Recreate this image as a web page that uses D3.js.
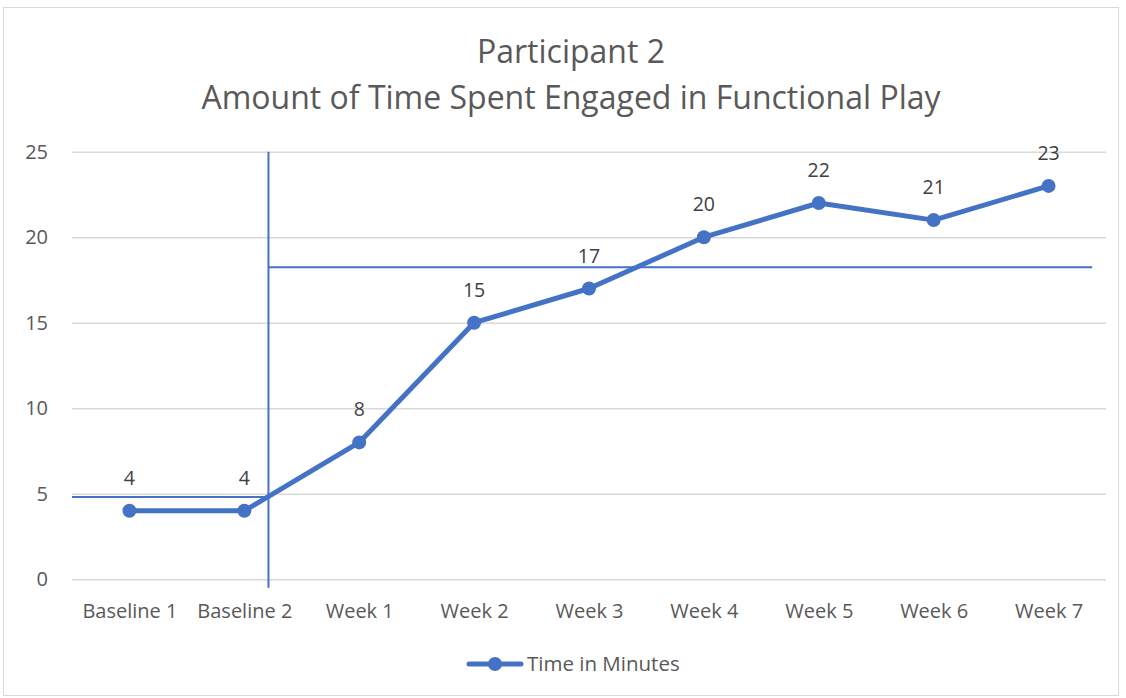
<!DOCTYPE html>
<html><head><meta charset="utf-8">
<script src="https://cdn.jsdelivr.net/npm/d3@7"></script>
<style>
html,body{margin:0;padding:0;background:#fff;}
svg{display:block;font-family:"Open Sans",sans-serif;}
</style></head>
<body>
<svg id="c" width="1126" height="698"></svg>
<script>
const categories = ["Baseline 1","Baseline 2","Week 1","Week 2","Week 3","Week 4","Week 5","Week 6","Week 7"];
const timeInMinutes = [4,4,8,15,17,20,22,21,23];
const yTicks = [0,5,10,15,20,25];
const titleLines = ["Participant 2","Amount of Time Spent Engaged in Functional Play"];
const seriesName = "Time in Minutes";
// phase annotation lines (in data units: category index / value)
const phaseChangeIndex = 1.21;
const baselineLevel = 4.8;
const interventionLevel = 18.25;
const interventionLineEnd = 8.38;

(function(){
const svg = d3.select("#c");
const pLeft = 72, pRight = 1106, pTop = 151.7, pBottom = 579.2;
const blue = "#4472C4";

svg.append("rect").attr("x",3.5).attr("y",7.5).attr("width",1115).attr("height",688)
  .attr("fill","#fff").attr("stroke","#d9d9d9").attr("stroke-width",1);

const x = d3.scalePoint().domain(categories).range([pLeft,pRight]).padding(0.5);
const step = x.step();
const xi = d3.scaleLinear().domain([0,1]).range([x(categories[0]), x(categories[0])+step]);
const y = d3.scaleLinear().domain([0,25]).range([pBottom,pTop]);

// title
svg.append("g").selectAll("text").data(titleLines).join("text")
  .attr("x",571).attr("y",(d,i)=>63+i*46).attr("text-anchor","middle")
  .attr("font-size",32).attr("fill","#595959").text(d=>d);

// gridlines
const yAxis = d3.axisLeft(y).tickValues(yTicks).tickSize(-(pRight-pLeft)).tickPadding(24);
const gy = svg.append("g").attr("transform",`translate(${pLeft},0)`).call(yAxis);
gy.select(".domain").remove();
gy.selectAll(".tick line").attr("stroke","#d9d9d9").attr("stroke-width",1.5);
gy.selectAll(".tick text").attr("fill","#595959").attr("font-size",20).attr("font-family","'Open Sans',sans-serif");

// x axis labels
const xAxis = d3.axisBottom(x).tickSize(0).tickPadding(25);
const gx = svg.append("g").attr("transform",`translate(0,${pBottom})`).call(xAxis);
gx.select(".domain").remove();
gx.selectAll(".tick text").attr("fill","#595959").attr("font-size",20).attr("font-family","'Open Sans',sans-serif");

// phase lines
svg.append("line").attr("x1",xi(phaseChangeIndex)).attr("x2",xi(phaseChangeIndex))
  .attr("y1",y(25)).attr("y2",y(-0.5)).attr("stroke",blue).attr("stroke-width",2);
svg.append("line").attr("x1",pLeft).attr("x2",xi(phaseChangeIndex))
  .attr("y1",y(baselineLevel)).attr("y2",y(baselineLevel)).attr("stroke",blue).attr("stroke-width",2);
svg.append("line").attr("x1",xi(phaseChangeIndex)).attr("x2",xi(interventionLineEnd))
  .attr("y1",y(interventionLevel)).attr("y2",y(interventionLevel)).attr("stroke",blue).attr("stroke-width",2);

// series
const data = categories.map((c,i)=>({c,v:timeInMinutes[i]}));
svg.append("path").datum(data)
  .attr("d",d3.line().x(d=>x(d.c)).y(d=>y(d.v)))
  .attr("fill","none").attr("stroke",blue).attr("stroke-width",5).attr("stroke-linejoin","round").attr("stroke-linecap","round");
svg.append("g").selectAll("circle").data(data).join("circle")
  .attr("cx",d=>x(d.c)).attr("cy",d=>y(d.v)).attr("r",7).attr("fill",blue);
svg.append("g").selectAll("text").data(data).join("text")
  .attr("x",d=>x(d.c)).attr("y",d=>y(d.v)-26).attr("text-anchor","middle")
  .attr("font-size",19.5).attr("fill","#404040").text(d=>d.v);

// legend
const lg = svg.append("g");
lg.append("line").attr("x1",469).attr("x2",521).attr("y1",664).attr("y2",664)
  .attr("stroke",blue).attr("stroke-width",5).attr("stroke-linecap","round");
lg.append("circle").attr("cx",495).attr("cy",664).attr("r",7).attr("fill",blue);
lg.append("text").attr("x",527).attr("y",671).attr("font-size",20.5).attr("fill","#595959").text(seriesName);
})();
</script>
</body></html>
